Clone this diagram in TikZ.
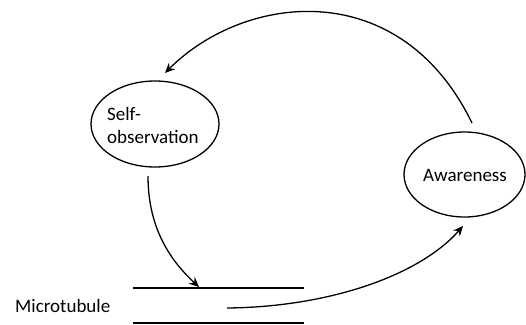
\documentclass[tikz,border=0pt]{standalone}
\usepackage{fontspec}
\setmainfont{Carlito}
\usetikzlibrary{arrows.meta,shapes.geometric}
\begin{document}
\begin{tikzpicture}[x=1pt,y=1pt,
  every node/.style={font=\fontsize{19}{23}\selectfont},
  bubble/.style={draw,ellipse,line width=1.3pt,inner sep=0pt},
  conn/.style={line width=1.3pt,-{Stealth[length=10pt,width=9pt,inset=3.5pt]}},
  tube/.style={line width=1.3pt}]
\useasboundingbox (0,0) rectangle (526,-324);
\node[bubble,minimum width=128pt,minimum height=86pt] (self) at (155,-124) {};
\node[align=left,anchor=base west,inner sep=0pt] (selftxt) at (107,-143) {Self-\\observation};
\node[bubble,minimum width=121pt,minimum height=85pt] (aware) at (464.5,-174.5) {};
\node[anchor=base west,inner sep=0pt] (awaretxt) at (423,-181) {Awareness};
\node[anchor=base west,inner sep=0pt] (micro) at (15,-312) {Microtubule};
\coordinate (t1a) at (133,-288);
\coordinate (t1b) at (304,-288);
\coordinate (t2a) at (133,-323);
\coordinate (t2b) at (304,-323);
\draw[tube] (t1a) -- (t1b);
\draw[tube] (t2a) -- (t2b);
\coordinate (s1) at (148,-176);
\coordinate (e1) at (199,-287);
\coordinate (s2) at (227,-308);
\coordinate (e2) at (463,-226);
\coordinate (s3) at (472,-123);
\coordinate (e3) at (165,-73);
\draw[conn] (s1) .. controls (148,-230) and (172,-262) .. (e1);
\draw[conn] (s2) .. controls (330,-307) and (420,-275) .. (e2);
\draw[conn] (s3) .. controls (400,25) and (245,7) .. (e3);
\end{tikzpicture}
\end{document}
